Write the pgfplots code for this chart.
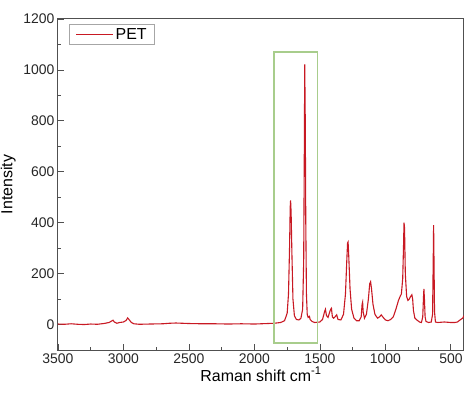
\documentclass[border=0pt]{standalone}
\usepackage{fontspec}
\setmainfont{Liberation Sans}
\usepackage{pgfplots}
\pgfplotsset{compat=1.18}
\definecolor{specred}{RGB}{200,25,35}
\definecolor{boxgreen}{RGB}{168,205,140}
\definecolor{axgray}{RGB}{80,80,80}
\begin{document}
\begin{tikzpicture}
\begin{axis}[
  scale only axis,
  width=406bp, height=331bp,
  xmin=400, xmax=3500, x dir=reverse,
  ymin=-100, ymax=1200,
  xtick={500,1000,1500,2000,2500,3000,3500},
  ytick={0,200,400,600,800,1000,1200},
  minor x tick num=1, minor y tick num=1,
  tick align=inside,
  xtick pos=bottom, ytick pos=left,
  major tick length=6bp, minor tick length=3bp,
  axis line style={axgray, line width=1bp},
  every tick/.style={axgray, line width=0.8bp},
  ticklabel style={font=\fontsize{14}{16}\selectfont, text=black!85},
  /pgf/number format/assume math mode=true,
  /pgf/number format/1000 sep={},
  xlabel={Raman shift cm\textsuperscript{-1}},
  ylabel={Intensity},
  label style={font=\fontsize{16}{19}\selectfont},
  xlabel style={yshift=3bp},
  ylabel style={yshift=1bp},
  legend style={at={(0.028,0.985)}, anchor=north west, draw=gray!70, line width=0.8bp,
    font=\fontsize{16}{18}\selectfont, inner xsep=6bp, inner ysep=2bp, row sep=0pt},
  legend cell align=left,
  legend image code/.code={\draw[specred, line width=0.9bp] (3bp,0bp) -- (40bp,0bp);},
]
\addplot[specred, line width=1.1bp] coordinates {
(3500,2) (3450,1) (3400,3) (3350,1) (3300,0) (3250,2) (3200,1) (3150,4) (3110,8)
(3090,14) (3080,17) (3070,10) (3050,5) (3030,8) (3000,10) (2980,16) (2968,26)
(2955,18) (2940,8) (2920,3) (2880,1) (2800,2) (2700,3) (2650,5) (2600,6) (2550,5)
(2500,4) (2400,3) (2300,3) (2200,2) (2100,3) (2000,2) (1900,4) (1850,5) (1800,8)
(1770,15) (1750,45) (1740,120) (1732,300) (1727,460) (1724,488) (1720,440)
(1714,280) (1706,100) (1695,35) (1680,20) (1660,18) (1645,25) (1632,60) (1624,250)
(1619,700) (1616,1022) (1612,800) (1608,400) (1603,120) (1597,40) (1590,28)
(1580,32) (1575,20) (1560,12) (1540,8) (1520,9) (1500,10) (1480,20) (1465,50)
(1458,60) (1450,35) (1438,28) (1428,45) (1418,60) (1412,64) (1405,30) (1395,25)
(1382,32) (1372,38) (1362,20) (1340,18) (1320,40) (1305,120) (1295,250) (1289,320)
(1285,324) (1280,270) (1270,140) (1258,60) (1240,25) (1220,15) (1200,15) (1185,30)
(1178,80) (1174,88) (1170,50) (1160,25) (1145,40) (1130,100) (1120,160) (1113,168)
(1106,140) (1095,80) (1080,40) (1060,25) (1045,30) (1032,38) (1020,30) (1000,18)
(980,15) (960,20) (940,30) (920,60) (900,95) (888,110) (878,120) (868,180)
(862,300) (858,400) (854,380) (848,200) (838,110) (828,95) (818,100) (808,110)
(798,117) (792,100) (786,55) (775,25) (760,18) (740,10) (725,8) (715,30) (709,110)
(706,140) (702,100) (697,30) (690,12) (670,8) (650,10) (640,40) (635,250) (632,390)
(629,250) (625,50) (618,10) (600,8) (550,10) (500,8) (470,8) (450,10) (430,18)
(410,25) (400,35)
};
\addlegendentry{PET}
\draw[boxgreen, line width=1.3bp] (axis cs:1850,-72) rectangle (axis cs:1520,1070);
\end{axis}
\pgfresetboundingbox
\path ([xshift=-58bp,yshift=-46bp]current axis.south west) rectangle ([xshift=10bp,yshift=19bp]current axis.north east);
\end{tikzpicture}
\end{document}
